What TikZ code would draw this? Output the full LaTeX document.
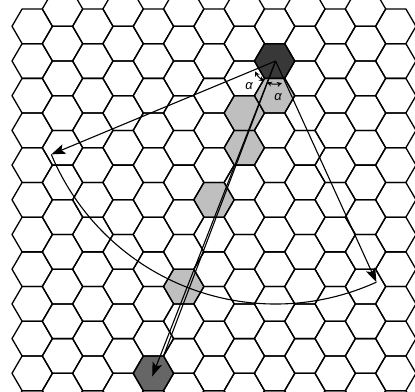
\documentclass[tikz,border=0pt]{standalone}
\usepackage{fontspec}
\setmainfont{Liberation Sans}
\usetikzlibrary{arrows.meta}

% one flat-topped cell round (#1,#2)
\newcommand\hexcell[2]{(#1,#2) +(20.2,0) -- +(10.1,17.35) -- +(-10.1,17.35) -- +(-20.2,0) -- +(-10.1,-17.35) -- +(10.1,-17.35) -- cycle}

\begin{document}
\begin{tikzpicture}[
    x=1pt, y=-1pt,
    hexline/.style={draw=black, line width=1.3pt, line join=round},
    source/.style={fill=black!78},
    trail/.style={fill=black!25},
    target/.style={fill=black!60},
    arrow/.style={-{Stealth[length=14pt, width=10pt, inset=3pt]}, line width=1.1pt},
    sweep/.style={line width=1.1pt},
    anglearc/.style={{Stealth[length=5pt, width=5pt]}-{Stealth[length=5pt, width=5pt]}, line width=1pt},
    anglelabel/.style={font=\itshape\fontsize{13}{13}\selectfont, inner sep=0pt},
]
\useasboundingbox (0,0) rectangle (415,391);

% shaded cells
\foreach \k/\n/\cellstyle in {8/1/source, 8/2/trail, 7/3/trail, 7/4/trail, 6/5/trail, 5/8/trail, 4/10/target} {
    \pgfmathsetmacro\cx{32.2+30.3*\k}
    \pgfmathsetmacro\cy{26.3+34.7*\n-17.35*mod(\k,2)}
    \path[\cellstyle] \hexcell{\cx}{\cy};
}

% the grid
\begin{scope}
\clip (0,0) rectangle (415,391);
\foreach \k in {0,...,12} {
    \foreach \n in {0,...,11} {
        \pgfmathsetmacro\cx{32.2+30.3*\k}
        \pgfmathsetmacro\cy{26.3+34.7*\n-17.35*mod(\k,2)}
        \path[hexline] \hexcell{\cx}{\cy};
    }
}
\end{scope}

\coordinate (src) at (275.6,61);
\coordinate (left) at (51.3,154.4);
\coordinate (right) at (376.4,282.1);
\coordinate (dst) at (152.2,376.4);
\coordinate (dstcorner) at (163.5,356);

\draw[arrow] (src) -- (left);
\draw[arrow] (src) -- (dst);
\draw[sweep] (src) -- (dstcorner);
\draw[arrow] (src) -- (right);
\draw[sweep] (left) arc[start angle=157.4, end angle=65.5, radius=243];

\draw[anglearc] (src) ++(153:23) arc[start angle=153, end angle=120, radius=23];
\draw[anglearc] (src) ++(112:23) arc[start angle=112, end angle=74, radius=23];
\node[anglelabel] (alphaL) at (249,86) {α};
\node[anglelabel] (alphaR) at (278,97) {α};
\end{tikzpicture}
\end{document}
